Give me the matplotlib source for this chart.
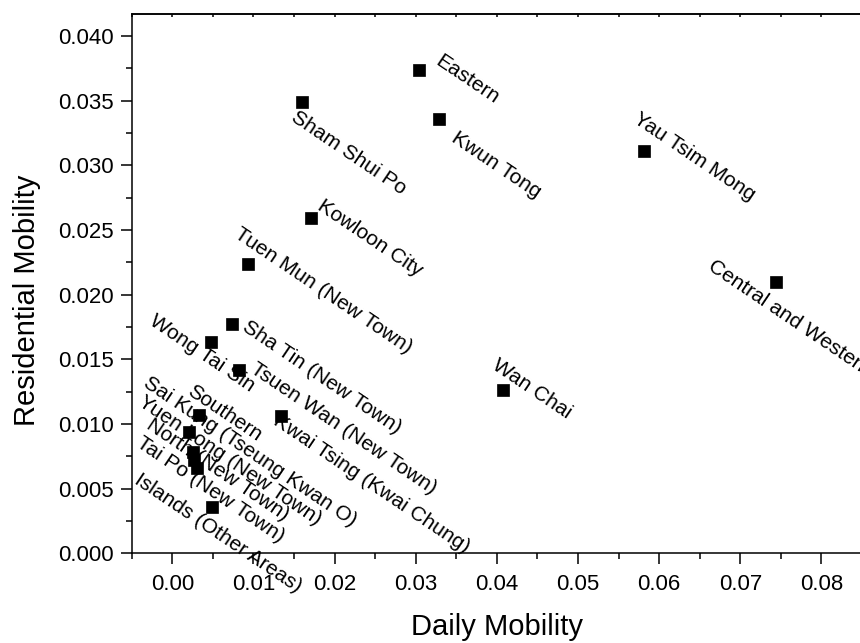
import matplotlib
matplotlib.use("Agg")
import matplotlib.pyplot as plt
from matplotlib.ticker import MultipleLocator

plt.rcParams['font.family'] = ['Liberation Sans', 'DejaVu Sans']

# district mobility values
districts = [
    "Eastern", "Sham Shui Po", "Kwun Tong", "Yau Tsim Mong", "Kowloon City",
    "Tuen Mun (New Town)", "Central and Western", "Wan Chai",
    "Sha Tin (New Town)", "Wong Tai Sin", "Tsuen Wan (New Town)",
    "Kwai Tsing (Kwai Chung)", "Southern", "Sai Kung (Tseung Kwan O)",
    "Yuen Long (New Town)", "North (New Town)", "Tai Po (New Town)",
    "Islands (Other Areas)",
]
daily = [0.0304, 0.0160, 0.0329, 0.0581, 0.0171, 0.0093, 0.0744, 0.0407,
         0.0073, 0.0048, 0.0082, 0.0134, 0.0033, 0.0021, 0.0025, 0.0027,
         0.0031, 0.0049]
residential = [0.0374, 0.0349, 0.0336, 0.0311, 0.0259, 0.0224, 0.0210, 0.0126,
               0.0177, 0.0163, 0.0142, 0.0106, 0.0107, 0.0094, 0.0078, 0.0072,
               0.0066, 0.0036]

# label offsets in points (baseline-left of the rotated text)
label_dx = [10.7, -8.4, 7.9, -8.6, 3.7, -10.4, -50.0, -8.4,
            6.7, -45.0, 7.2, -6.5, -9.6, -34.0, -39.8, -35.3, -44.6, -56.4]
label_dy = [4.2, -12.7, -15.6, 21.1, 6.7, 19.2, 9.1, 15.8,
            -4.1, 13.9, -1.7, -5.3, 15.1, 33.0, 34.6, 23.5, 16.3, 17.5]

fig = plt.figure(figsize=(8.6, 6.43), dpi=100)
ax = fig.add_axes([131.7 / 860, 1 - 553.3 / 643, (862 - 131.7) / 860, (553.3 - 14) / 643])

ax.plot(daily, residential, 's', color='black', ms=8, mew=0.5, linestyle='none',
        clip_on=False)

for name, x, y, dx, dy in zip(districts, daily, residential, label_dx, label_dy):
    ax.annotate(name, (x, y), xytext=(dx, dy), textcoords='offset points',
                rotation=-34, rotation_mode='anchor', ha='left', va='baseline',
                fontsize=15, annotation_clip=False)

ax.set_xlim(-0.005, 0.085)
ax.set_ylim(0, 0.0417)
ax.xaxis.set_major_locator(MultipleLocator(0.01))
ax.xaxis.set_minor_locator(MultipleLocator(0.005))
ax.yaxis.set_major_locator(MultipleLocator(0.005))
ax.yaxis.set_minor_locator(MultipleLocator(0.0025))
ax.xaxis.set_major_formatter(lambda v, p: f"{v:.2f}")
ax.yaxis.set_major_formatter(lambda v, p: f"{v:.3f}")

ax.tick_params(which='both', direction='out', width=1.1, labelsize=16)
ax.tick_params(which='major', length=8)
ax.tick_params(which='minor', length=4)
ax.tick_params(axis='x', which='major', pad=7)
ax.tick_params(axis='y', which='major', pad=5)
for s in ax.spines.values():
    s.set_linewidth(1.1)

# small inward ticks along the top edge
top = ax.secondary_xaxis('top')
top.xaxis.set_major_locator(MultipleLocator(0.005))
top.tick_params(direction='in', length=2, width=1.1, labeltop=False)
top.spines['top'].set_linewidth(1.1)

ax.set_xlabel("Daily Mobility", fontsize=21, labelpad=13)
ax.set_ylabel("Residential Mobility", fontsize=21)
ax.yaxis.set_label_coords(-0.124, 0.47)

fig.savefig("out.png", dpi=100)
